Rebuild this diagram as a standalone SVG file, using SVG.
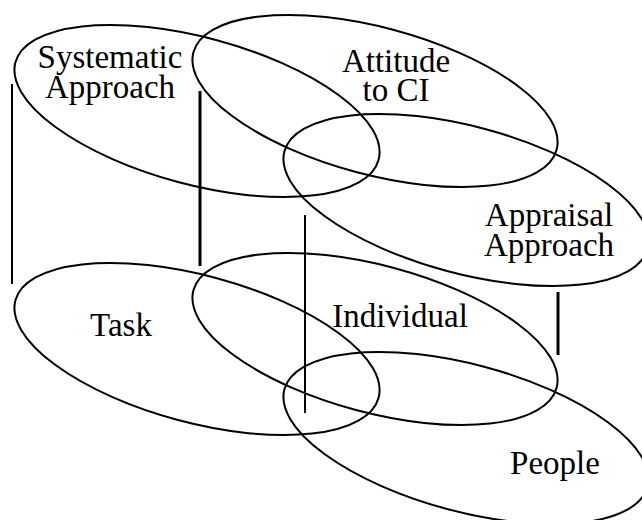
<svg xmlns="http://www.w3.org/2000/svg" width="642" height="520" viewBox="0 0 642 520">
<style>
.e{fill:none;stroke:#000;stroke-width:2}
.t{font-family:"Liberation Serif","Times New Roman",serif;font-size:33px;fill:#000;text-anchor:middle}
.c{stroke:#000;stroke-width:2;fill:none}
.c3{stroke:#000;stroke-width:3;fill:none}
</style>
<rect width="642" height="520" fill="#fff"/>
<g id="systematic">
<ellipse class="e" cx="197" cy="111" rx="188" ry="73.5" transform="rotate(15 197 111)"/>
<text class="t" x="110" y="68">Systematic</text>
<text class="t" x="110" y="98">Approach</text>
</g>
<g id="attitude">
<ellipse class="e" cx="375" cy="101" rx="188" ry="73.5" transform="rotate(15 375 101)"/>
<text class="t" x="396" y="72">Attitude</text>
<text class="t" x="396" y="101">to CI</text>
</g>
<g id="appraisal">
<ellipse class="e" cx="466" cy="200" rx="188" ry="73.5" transform="rotate(15 466 200)"/>
<text class="t" x="549" y="226">Appraisal</text>
<text class="t" x="549" y="256">Approach</text>
</g>
<g id="task">
<ellipse class="e" cx="197" cy="349" rx="188" ry="73.5" transform="rotate(15 197 349)"/>
<text class="t" x="121" y="336">Task</text>
</g>
<g id="individual">
<ellipse class="e" cx="375" cy="339" rx="188" ry="73.5" transform="rotate(15 375 339)"/>
<text class="t" x="400" y="327">Individual</text>
</g>
<g id="people">
<ellipse class="e" cx="466" cy="438" rx="188" ry="73.5" transform="rotate(15 466 438)"/>
<text class="t" x="555" y="474">People</text>
</g>
<g id="connectors">
<line class="c" x1="12" y1="84" x2="12" y2="284"/>
<line class="c3" x1="200" y1="91" x2="200" y2="266"/>
<line class="c" x1="305" y1="215" x2="305" y2="413"/>
<line class="c3" x1="558" y1="292" x2="558" y2="355"/>
</g>
</svg>
